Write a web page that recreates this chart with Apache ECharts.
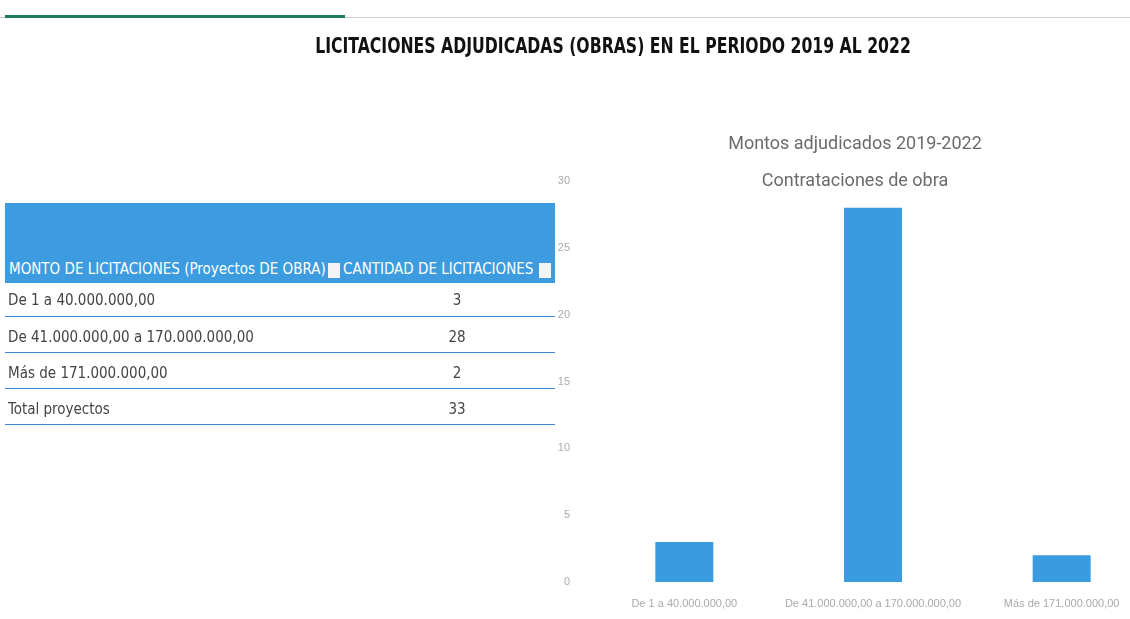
<!DOCTYPE html>
<html>
<head>
<meta charset="utf-8">
<script src="https://cdn.jsdelivr.net/npm/echarts@6/dist/echarts.min.js"></script>
<style>
    body { margin: 0; background: #fff; }
    #page { position: relative; width: 1130px; height: 619px; overflow: hidden; }
    #chart { position: absolute; left: 0; top: 0; width: 1130px; height: 619px; }
    #topbar { position: absolute; left: 0; top: 0; width: 1130px; height: 17px; border-bottom: 1px solid #cfcfcf; }
    #topbar .sel { position: absolute; left: 5px; top: 15px; width: 340px; height: 3px; background: #1e7a5c; }
    #title { position: absolute; left: 0; width: 1226px; top: 34px; text-align: center;
        font-family: "Liberation Sans Narrow", "DejaVu Sans Condensed", sans-serif; font-weight: bold;
        font-size: 21px; color: #111; transform: scaleX(0.83); transform-origin: 613px 0; }
    #tabla { position: absolute; left: 5px; top: 203px; width: 550px;
        font-family: "Liberation Sans Narrow", "DejaVu Sans Condensed", sans-serif; }
    #tabla .head { height: 80px; background: #3d9be0; position: relative; color: #fff; font-size: 15px; }
    #tabla .head span { position: absolute; bottom: 5px; white-space: nowrap; }
    #tabla .drop { position: absolute; bottom: 5px; width: 12px; height: 15px; background: #f4f4f4; }
    #tabla .row { height: 35px; border-bottom: 1px solid #3f88d0; position: relative; color: #444; font-size: 15px; }
    #tabla .row span { position: absolute; top: 11px; }
    #tabla .row.first { height: 33px; }
    #tabla .row.first span { top: 8px; }
</style>
</head>
<body>
<div id="page">
    <div id="chart"></div>
    <div id="topbar"><div class="sel"></div></div>
    <div id="title">LICITACIONES ADJUDICADAS (OBRAS) EN EL PERIODO 2019 AL 2022</div>
    <div id="tabla"></div>
</div>

<script type="text/javascript">

var columnas = ['MONTO DE LICITACIONES (Proyectos DE OBRA)', 'CANTIDAD  DE LICITACIONES'];
var rangos = ['De 1 a 40.000.000,00', 'De 41.000.000,00 a 170.000.000,00', 'Más de 171.000.000,00'];
var cantidades = [3, 28, 2];
var totalLabel = 'Total proyectos';
var total = 33;
var yTicks = [0, 5, 10, 15, 20, 25, 30];

// tabla de la izquierda
var tabla = document.getElementById('tabla');
var html = '<div class="head">' +
    '<span style="left:4px">' + columnas[0] + '</span><div class="drop" style="left:323px"></div>' +
    '<span style="left:338px">' + columnas[1] + '</span><div class="drop" style="left:534px"></div>' +
    '</div>';
var filas = rangos.map(function (r, i) { return [r, cantidades[i]]; });
filas.push([totalLabel, total]);
filas.forEach(function (f, i) {
    html += '<div class="row' + (i === 0 ? ' first' : '') + '"><span style="left:3px">' + f[0] + '</span>' +
        '<span style="left:442px;width:20px;text-align:center">' + f[1] + '</span></div>';
});
tabla.innerHTML = html;

// grafico
var option = {
    animation: false,
    title: {
        text: 'Montos adjudicados 2019-2022\nContrataciones de obra',
        left: 850,
        top: 121,
        textAlign: 'center',
        textStyle: {
            fontFamily: 'Roboto',
            fontWeight: 'normal',
            fontSize: 18,
            color: '#6b6b6b',
            lineHeight: 37
        }
    },
    grid: {
        left: 590,
        width: 566,
        top: 181,
        bottom: 37,
        outerBoundsMode: 'none'
    },
    xAxis: {
        type: 'category',
        data: rangos,
        axisLine: { show: false },
        axisTick: { show: false },
        axisLabel: {
            color: '#aaa',
            fontSize: 11,
            margin: 16,
            interval: 0
        }
    },
    yAxis: {
        type: 'value',
        min: yTicks[0],
        max: yTicks[yTicks.length - 1],
        interval: 5,
        splitLine: { show: false },
        axisLabel: { color: '#aaa', fontSize: 11, margin: 20 }
    },
    series: [{
        type: 'bar',
        data: cantidades,
        barWidth: 58,
        itemStyle: { color: '#3b9be0' }
    }]
};

var chart = echarts.init(document.getElementById('chart'));
chart.setOption(option);

</script>
</body>
</html>
